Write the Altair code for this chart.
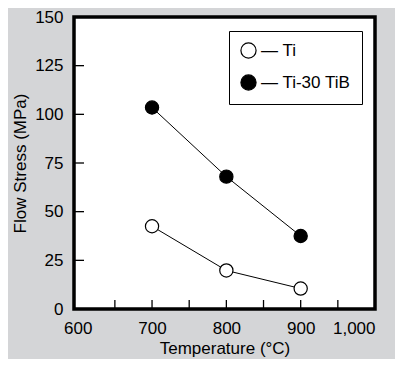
import altair as alt
import pandas as pd

temps = [700, 800, 900]
ti_stress = [42.5, 19.8, 10.5]
tib_stress = [103.5, 68.0, 37.5]
series_names = ["Ti", "Ti-30 TiB"]

x_labels = [600, 700, 800, 900, 1000]
x_minor = [650, 700, 750, 800, 850, 900, 950]
y_labels = [0, 25, 50, 75, 100, 125, 150]
y_minor = [25, 50, 75, 100, 125]

df = pd.DataFrame({
    "T": temps * 2,
    "S": ti_stress + tib_stress,
    "series": [series_names[0]] * 3 + [series_names[1]] * 3,
})

W, H = 301, 292
FONT = "Liberation Sans"
FS = 17

xs = alt.Scale(domain=[595, 1000], nice=False, zero=False)
ys = alt.Scale(domain=[0, 150], nice=False)

x_enc = alt.X("T:Q", scale=xs, title="Temperature (°C)",
              axis=alt.Axis(values=x_labels, format=",d", ticks=False, domain=False, grid=False,
                            labelPadding=11, titlePadding=4))
y_enc = alt.Y("S:Q", scale=ys, title="Flow Stress (MPa)",
              axis=alt.Axis(values=y_labels, ticks=False, domain=False, grid=False,
                            labelPadding=11, titlePadding=5))

lines = alt.Chart(df).mark_line(color="black", strokeWidth=1).encode(
    x=x_enc, y=y_enc, detail="series:N")

points = alt.Chart(df).mark_point(shape="circle", filled=True, size=175,
                                  stroke="black", strokeWidth=1.2, opacity=1).encode(
    x="T:Q", y="S:Q",
    fill=alt.Fill("series:N",
                  scale=alt.Scale(domain=series_names, range=["white", "black"]),
                  legend=alt.Legend(title=None, orient="none", legendX=155, legendY=14,
                                    labelExpr="'— ' + datum.label",
                                    symbolType="circle", symbolSize=230,
                                    symbolStrokeColor="black", symbolStrokeWidth=1.2,
                                    strokeColor="black", fillColor="white",
                                    padding=11, rowPadding=11, labelOffset=4,
                                    labelFontSize=FS, labelFont=FONT,
                                    labelColor="black")))

xt = alt.Chart(pd.DataFrame({"v": x_minor})).mark_rule(color="black", strokeWidth=1.3).encode(
    x=alt.X("v:Q", scale=xs), y=alt.value(H), y2=alt.value(H - 9))

yt = alt.Chart(pd.DataFrame({"v": y_minor})).mark_rule(color="black", strokeWidth=1.3).encode(
    y=alt.Y("v:Q", scale=ys), x=alt.value(0), x2=alt.value(10))

chart = alt.layer(lines, xt, yt, points).properties(
    width=W, height=H,
    background="#d4d5d7",
    autosize=alt.AutoSizeParams(type="none"),
    padding={"left": 66, "top": 9, "right": 20, "bottom": 50},
).configure_view(
    stroke="black", strokeWidth=3.5, fill="white"
).configure_axis(
    labelFont=FONT, titleFont=FONT, labelFontSize=FS, titleFontSize=FS,
    labelColor="black", titleColor="black", titleFontWeight="normal"
)

chart.save("out.html", embed_options={"renderer": "svg", "actions": False})
